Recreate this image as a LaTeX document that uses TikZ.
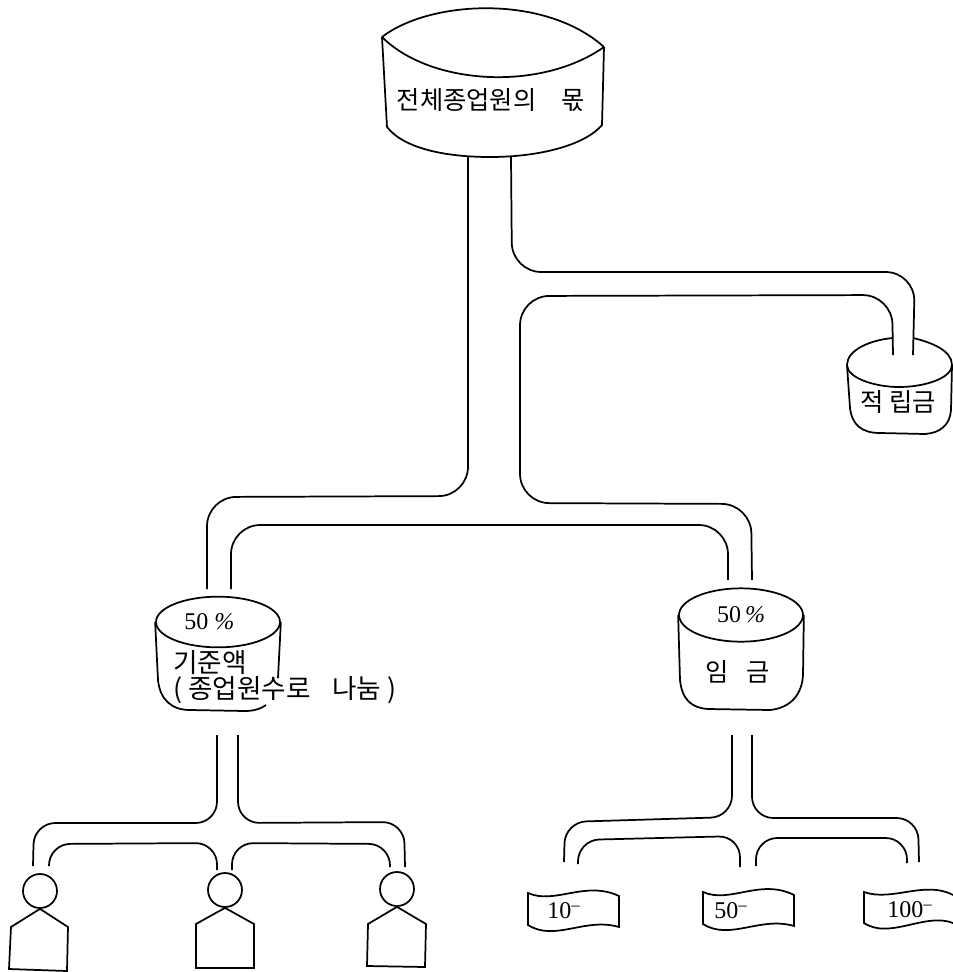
\documentclass[tikz,border=0pt]{standalone}
\usepackage{fontspec}
\setmainfont{Liberation Serif}
\newfontfamily\krfont{Noto Sans CJK KR}
\usetikzlibrary{shapes.geometric, positioning}
\tikzset{
  vatline/.style={draw=black, line width=1.3pt},
  pipeline/.style={draw=black, line width=1.3pt, rounded corners=22pt},
  branchline/.style={draw=black, line width=1.3pt, rounded corners=16pt},
  lidblock/.style={
    ellipse, draw=black, line width=1.3pt, inner sep=0pt,
    minimum width=93pt, minimum height=38pt, font=\fontsize{18}{20}\selectfont
  },
  krlabel/.style={inner sep=0pt, font=\krfont\fontsize{19}{23}\selectfont},
  headblock/.style={circle, draw=black, line width=1.3pt, inner sep=0pt, minimum size=25.5pt},
  notelabel/.style={inner sep=0pt, font=\fontsize{18}{20}\selectfont}
}
\begin{document}
\begin{tikzpicture}[x=0.75pt, y=-0.75pt]
  \useasboundingbox (0,0) rectangle (953,972);

  \node[krlabel] (total) at (491,100) {전체종업원의\hspace{1em}몫};
  \draw[vatline] (382,37) .. controls (430,0) and (545,-6) .. (604,47);
  \draw[vatline] (382,37) .. controls (430,85) and (540,92) .. (604,47);
  \draw[vatline] (382,37) -- (387,127) .. controls (405,150) and (450,157) .. (490,157)
    .. controls (540,157) and (585,145) .. (602,125) -- (604,47);

  \node[krlabel] (reserve) at (898,402) {적 립금};
  \draw[vatline] (893,338) .. controls (870,340) and (847,350) .. (847,365)
    .. controls (847,378) and (875,387) .. (899,387)
    .. controls (925,387) and (952,378) .. (952,365)
    .. controls (952,350) and (930,342) .. (913,338);
  \draw[vatline] (847,365) -- (850,408) .. controls (852,425) and (862,433) .. (880,433)
    -- (925,434) .. controls (940,433) and (950,425) .. (951,410) -- (952,365);

  \node[lidblock] (base_lid) at (218,622) {\raisebox{-2pt}{50 \textit{\%}\hspace{13pt}}};
  \node[krlabel, anchor=west, font=\krfont\fontsize{20}{24}\selectfont] (base) at (173,663) {기준액};
  \node[krlabel, anchor=west, font=\krfont\fontsize{20}{24}\selectfont] (share) at (173,690) {( 종업원수로\hspace{0.8em}나눔 )};
  \draw[vatline] (base_lid.west) -- (158,680) .. controls (160,700) and (172,710) .. (190,710)
    -- (245,711) .. controls (255,711) and (262,708) .. (266,705);
  \draw[vatline] (base_lid.east) -- (278,678);

  \node[lidblock, minimum height=40pt] (wage_lid) at (741,615) {\raisebox{-3pt}{50\,\textit{\%}}};
  \node[krlabel] (wage) at (738,672) {임\hspace{0.7em}금};
  \draw[vatline] (wage_lid.west) -- (680,680) .. controls (682,700) and (692,708) .. (708,709)
    -- (770,710) .. controls (790,708) and (802,695) .. (803,675) -- (wage_lid.east);

  \coordinate (total_a) at (468,157);
  \coordinate (total_b) at (511,157);
  \coordinate (reserve_a) at (893,355);
  \coordinate (reserve_b) at (913,355);
  \coordinate (base_a) at (207,589);
  \coordinate (base_b) at (231,589);
  \coordinate (wage_a) at (728,580);
  \coordinate (wage_b) at (752,580);

  \draw[pipeline] (total_a) -- (468,496) -- (207,497) -- (base_a);
  \draw[pipeline] (base_b) -- (231,525) -- (728,525) -- (wage_a);
  \draw[pipeline] (wage_b) -- (751,504) -- (520,503) -- (520,296) -- (892,295) -- (reserve_a);
  \draw[pipeline] (reserve_b) -- (915,272) -- (512,272) -- (total_b);

  \node[headblock] (head_a) at (40,891) {};
  \node[headblock] (head_b) at (225,890) {};
  \node[headblock] (head_c) at (397,889) {};
  \draw[vatline] (head_a.south) -- (68,927) -- (67,971) -- (9,969) -- (11,927) -- cycle;
  \draw[vatline] (head_b.south) -- (254,924) -- (254,968) -- (196,968) -- (196,924) -- cycle;
  \draw[vatline] (head_c.south) -- (426,924) -- (425,967) -- (367,966) -- (368,924) -- cycle;

  \coordinate (person_a1) at (33,866);
  \coordinate (person_a2) at (49,866);
  \coordinate (person_b1) at (217,870);
  \coordinate (person_b2) at (232,870);
  \coordinate (person_c1) at (390,867);
  \coordinate (person_c2) at (405,867);
  \coordinate (base_c) at (217,735);
  \coordinate (base_d) at (238,735);

  \draw[branchline] (base_c) -- (217,823) -- (34,823) -- (person_a1);
  \draw[branchline] (person_a2) -- (49,844) -- (217,843) -- (person_b1);
  \draw[branchline] (person_b2) -- (232,843) -- (390,844) -- (person_c1);
  \draw[branchline] (person_c2) -- (404,822) -- (238,823) -- (base_d);

  \node[notelabel] (note_a) at (564,911) {10\textsuperscript{--}};
  \node[notelabel] (note_b) at (731,911) {50\textsuperscript{--}};
  \node[notelabel] (note_c) at (910,910) {100\textsuperscript{--}};
  \draw[vatline] (528,893) .. controls (555,905) and (585,880) .. (619,896) -- (619,927)
    .. controls (585,917) and (555,942) .. (528,925) -- cycle;
  \draw[vatline] (703,892) .. controls (730,904) and (760,878) .. (794,895) -- (794,926)
    .. controls (760,916) and (730,941) .. (703,924) -- cycle;
  \draw[vatline] (953,895) .. controls (925,880) and (892,902) .. (864,892) -- (864,923)
    .. controls (890,940) and (925,912) .. (953,923);

  \coordinate (note_a1) at (564,862);
  \coordinate (note_a2) at (578,864);
  \coordinate (note_b1) at (740,867);
  \coordinate (note_b2) at (756,866);
  \coordinate (note_c1) at (907,863);
  \coordinate (note_c2) at (919,862);
  \coordinate (wage_c) at (732,735);
  \coordinate (wage_d) at (752,735);

  \draw[branchline] (wage_c) -- (732,817) -- (565,822) -- (note_a1);
  \draw[branchline] (note_a2) -- (578,840) -- (740,836) -- (note_b1);
  \draw[branchline] (note_b2) -- (756,838) -- (907,838) -- (note_c1);
  \draw[branchline] (note_c2) -- (918,818) -- (752,818) -- (wage_d);
\end{tikzpicture}
\end{document}
